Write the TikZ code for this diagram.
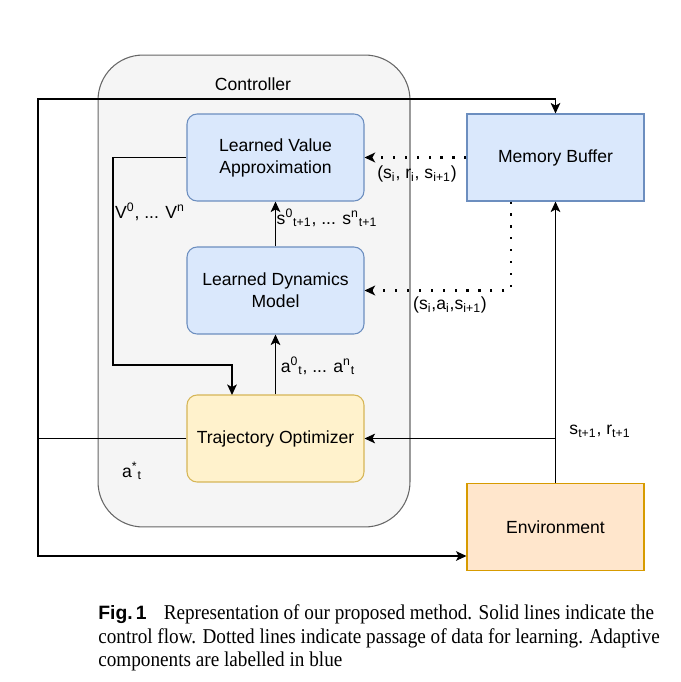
\documentclass[tikz,border=0pt]{standalone}
\usepackage{fontspec}
\setmainfont{Liberation Serif}
\newfontfamily\boxfont{Liberation Sans}
\newfontfamily\capfont[FakeStretch=0.91]{Liberation Serif}
\usetikzlibrary{arrows.meta}
\definecolor{ctrlfill}{HTML}{F5F5F5}
\definecolor{ctrlline}{HTML}{666666}
\definecolor{bluefill}{HTML}{DAE8FC}
\definecolor{blueline}{HTML}{6C8EBF}
\definecolor{yellowfill}{HTML}{FFF2CC}
\definecolor{yellowline}{HTML}{D6B656}
\definecolor{orangefill}{HTML}{FFE6CC}
\definecolor{orangeline}{HTML}{D79B00}

\begin{document}
\begin{tikzpicture}[x=0.02cm,y=-0.02cm,font=\boxfont\fontsize{10}{12.5}\selectfont,
  box/.style={draw=blueline,fill=bluefill,rounded corners=0.2cm,minimum width=3.54cm,minimum height=1.74cm,align=center,line width=0.6pt},
  flow/.style={-{Stealth[length=6pt,width=5.5pt,inset=1.5pt]},line width=0.7pt},
  data/.style={-{Stealth[length=6pt,width=5.5pt,inset=1.5pt]},line width=1.2pt,dash pattern=on 1.2pt off 5.6pt},
  lbl/.style={inner sep=1pt}]
  \useasboundingbox (0,0) rectangle (680,682);

  \node (ctrl) at (254,291)[draw=ctrlline,fill=ctrlfill,rounded corners=0.9cm,minimum width=6.24cm,minimum height=9.44cm,line width=0.6pt]{};
  \node (ctrltitle) at (253,84){Controller};

  \node[box] (value) at (275.5,157.5){Learned Value\\Approximation};
  \node[box] (dyn) at (275.5,290.5){Learned Dynamics\\Model};
  \node[box,draw=yellowline,fill=yellowfill] (opt) at (275.5,438.5){Trajectory Optimizer};
  \node[box,rounded corners=0pt] (mem) at (555.5,157.5){Memory Buffer};
  \node[box,rounded corners=0pt,draw=orangeline,fill=orangefill] (env) at (555.5,527){Environment};

  \coordinate (split) at (38,438.5);
  \coordinate (topleft) at (38,99);
  \coordinate (botleft) at (38,556);
  \coordinate (vturn) at (113,365);
  \coordinate (optin) at (232,395);
  \coordinate (fb) at (555.5,438.5);
  \coordinate (memdrop) at (511,290.5);

  % control flow
  \draw[flow](dyn)--(value);
  \draw[flow](opt)--(dyn);
  \draw[flow](value.west)-|(vturn)-|(optin);
  \draw[flow](opt.west)--(split)--(topleft)-|(mem.north);
  \draw[flow](split)--(botleft)--(env.west|-botleft);
  \draw[flow](env)--(mem);
  \draw[flow](fb)--(opt.east);

  % data for learning
  \draw[data](mem.west)--(value.east);
  \draw[data](mem.south-|memdrop)--(memdrop)--(dyn.east);

  \node[lbl] (vlabel) at (150,212){V\textsuperscript{0}, ... V\textsuperscript{n}};
  \node[lbl] (slabel) at (327,218){s\textsuperscript{0}\textsubscript{t+1}, ... s\textsuperscript{n}\textsubscript{t+1}};
  \node[lbl] (alabel) at (318,366){a\textsuperscript{0}\textsubscript{t}, ... a\textsuperscript{n}\textsubscript{t}};
  \node[lbl] (astar) at (132,471){a\textsuperscript{*}\textsubscript{t}};
  \node[lbl] (srlabel) at (600,431){s\textsubscript{t+1}, r\textsubscript{t+1}};
  \node[lbl] (memval) at (417,174){(s\textsubscript{i}, r\textsubscript{i}, s\textsubscript{i+1})};
  \node[lbl] (memdyn) at (450,305){(s\textsubscript{i},a\textsubscript{i},s\textsubscript{i+1})};

  \node[anchor=north west,align=left,inner sep=0pt,font=\capfont\fontsize{12}{13.6}\selectfont] (caption) at (98,604)
    {{\boxfont\bfseries\fontsize{11}{13.6}\selectfont Fig.\,1}\hspace{7pt} Representation of our proposed method. Solid lines indicate the\\
     control flow. Dotted lines indicate passage of data for learning. Adaptive\\
     components are labelled in blue};
\end{tikzpicture}
\end{document}
